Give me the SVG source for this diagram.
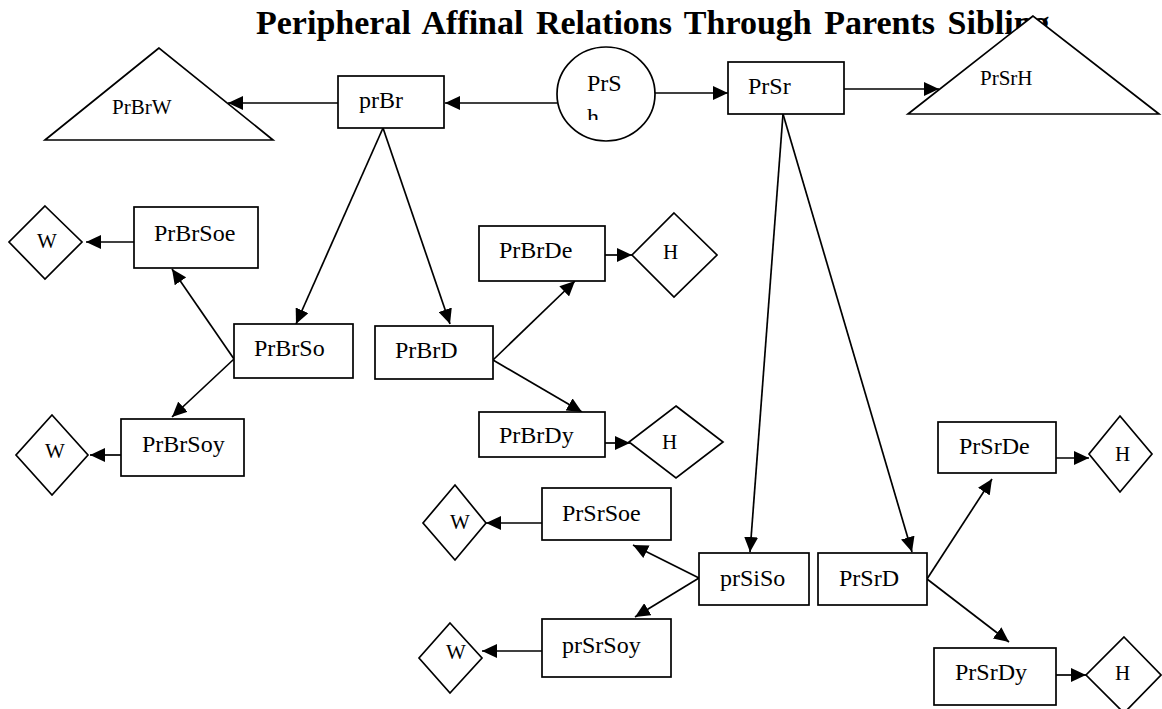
<svg xmlns="http://www.w3.org/2000/svg" width="1162" height="709" viewBox="0 0 1162 709">
  <style>
    .box { fill: #fff; stroke: #000; stroke-width: 1.7; }
    .shape { fill: #fff; stroke: #000; stroke-width: 1.7; }
    .lbl { font-family: "Liberation Serif", "Times New Roman", serif; font-size: 24px; fill: #000; }
    .tri { font-family: "Liberation Serif", "Times New Roman", serif; font-size: 21px; fill: #000; }
    .dia { font-family: "Liberation Serif", "Times New Roman", serif; font-size: 21px; fill: #000; }
    .title { font-family: "Liberation Serif", "Times New Roman", serif; font-size: 34px; font-weight: bold; fill: #000; word-spacing: 4px; }
    .edge { fill: none; stroke: #000; stroke-width: 1.7; marker-end: url(#arrow); }
  </style>
  <defs>
    <marker id="arrow" markerUnits="userSpaceOnUse" markerWidth="16" markerHeight="14" refX="15" refY="7" orient="auto">
      <path d="M0,0 L15,7 L0,14 Z" fill="#000"/>
    </marker>
    <clipPath id="circleText">
      <rect x="560" y="60" width="80" height="60"/>
    </clipPath>
  </defs>

  <rect width="1162" height="709" fill="#fff"/>

  <text class="title" x="256" y="34">Peripheral Affinal Relations Through Parents Sibling</text>

  <!-- connectors -->
  <g id="connectors">
    <line class="edge" x1="557" y1="103" x2="445" y2="103"/>
    <line class="edge" x1="338" y1="103" x2="228" y2="103"/>
    <line class="edge" x1="655" y1="93" x2="728" y2="93"/>
    <line class="edge" x1="844" y1="89" x2="939" y2="89"/>

    <line class="edge" x1="383" y1="128" x2="296" y2="324"/>
    <line class="edge" x1="383" y1="128" x2="450" y2="324"/>

    <line class="edge" x1="234" y1="359" x2="172" y2="269"/>
    <line class="edge" x1="234" y1="359" x2="172" y2="417"/>
    <line class="edge" x1="134" y1="242" x2="86" y2="242"/>
    <line class="edge" x1="121" y1="455" x2="90" y2="455"/>

    <line class="edge" x1="493" y1="360" x2="575" y2="281"/>
    <line class="edge" x1="493" y1="360" x2="582" y2="412"/>
    <line class="edge" x1="605" y1="255" x2="632" y2="255"/>
    <line class="edge" x1="605" y1="443" x2="630" y2="443"/>

    <line class="edge" x1="783" y1="114" x2="750" y2="552"/>
    <line class="edge" x1="783" y1="114" x2="912" y2="552"/>

    <line class="edge" x1="699" y1="578" x2="633" y2="545"/>
    <line class="edge" x1="699" y1="578" x2="635" y2="617"/>
    <line class="edge" x1="542" y1="523" x2="486" y2="523"/>
    <line class="edge" x1="542" y1="651" x2="482" y2="651"/>

    <line class="edge" x1="927" y1="579" x2="992" y2="479"/>
    <line class="edge" x1="927" y1="579" x2="1009" y2="642"/>
    <line class="edge" x1="1056" y1="458" x2="1089" y2="458"/>
    <line class="edge" x1="1056" y1="675" x2="1086" y2="675"/>
  </g>

  <!-- top row -->
  <g id="PrBrW">
    <polygon class="shape" points="159,48 45,140 273,140"/>
    <text class="tri" x="112" y="114">PrBrW</text>
  </g>
  <g id="prBr">
    <rect class="box" x="338" y="76" width="106" height="52"/>
    <text class="lbl" x="359" y="108">prBr</text>
  </g>
  <g id="PrSh">
    <ellipse class="shape" cx="606" cy="94" rx="49" ry="47"/>
    <g clip-path="url(#circleText)">
      <text class="lbl" x="587" y="91">PrS</text>
      <text class="lbl" x="587" y="125">h</text>
    </g>
  </g>
  <g id="PrSr">
    <rect class="box" x="728" y="62" width="116" height="52"/>
    <text class="lbl" x="748" y="94">PrSr</text>
  </g>
  <g id="PrSrH">
    <polygon class="shape" points="1033,16 908,114 1159,114"/>
    <text class="tri" x="980" y="85">PrSrH</text>
  </g>

  <!-- brother's side -->
  <g id="PrBrSoe">
    <rect class="box" x="134" y="207" width="124" height="61"/>
    <text class="lbl" x="154" y="241">PrBrSoe</text>
  </g>
  <g id="W1">
    <polygon class="shape" points="45,206 82,242 45,279 9,242"/>
    <text class="dia" x="37" y="248">W</text>
  </g>
  <g id="PrBrSo">
    <rect class="box" x="234" y="324" width="119" height="54"/>
    <text class="lbl" x="254" y="356">PrBrSo</text>
  </g>
  <g id="PrBrSoy">
    <rect class="box" x="121" y="419" width="123" height="57"/>
    <text class="lbl" x="142" y="452">PrBrSoy</text>
  </g>
  <g id="W2">
    <polygon class="shape" points="52,415 88,455 52,495 16,455"/>
    <text class="dia" x="45" y="458">W</text>
  </g>
  <g id="PrBrD">
    <rect class="box" x="375" y="326" width="118" height="53"/>
    <text class="lbl" x="395" y="358">PrBrD</text>
  </g>
  <g id="PrBrDe">
    <rect class="box" x="479" y="226" width="126" height="55"/>
    <text class="lbl" x="499" y="258">PrBrDe</text>
  </g>
  <g id="H1">
    <polygon class="shape" points="674,213 717,255 674,297 632,255"/>
    <text class="dia" x="663" y="259">H</text>
  </g>
  <g id="PrBrDy">
    <rect class="box" x="479" y="412" width="126" height="45"/>
    <text class="lbl" x="499" y="443">PrBrDy</text>
  </g>
  <g id="H2">
    <polygon class="shape" points="676,406 723,442 676,478 629,442"/>
    <text class="dia" x="662" y="449">H</text>
  </g>

  <!-- sister's side -->
  <g id="PrSrSoe">
    <rect class="box" x="542" y="488" width="129" height="52"/>
    <text class="lbl" x="562" y="521">PrSrSoe</text>
  </g>
  <g id="W3">
    <polygon class="shape" points="455,485 486,523 455,560 423,523"/>
    <text class="dia" x="450" y="529">W</text>
  </g>
  <g id="prSrSoy">
    <rect class="box" x="542" y="619" width="129" height="58"/>
    <text class="lbl" x="562" y="653">prSrSoy</text>
  </g>
  <g id="W4">
    <polygon class="shape" points="450,623 482,658 450,693 419,658"/>
    <text class="dia" x="446" y="659">W</text>
  </g>
  <g id="prSiSo">
    <rect class="box" x="699" y="553" width="110" height="52"/>
    <text class="lbl" x="720" y="586">prSiSo</text>
  </g>
  <g id="PrSrD">
    <rect class="box" x="818" y="553" width="109" height="52"/>
    <text class="lbl" x="839" y="586">PrSrD</text>
  </g>
  <g id="PrSrDe">
    <rect class="box" x="938" y="422" width="118" height="51"/>
    <text class="lbl" x="959" y="454">PrSrDe</text>
  </g>
  <g id="H3">
    <polygon class="shape" points="1120,416 1152,454 1120,492 1089,454"/>
    <text class="dia" x="1115" y="461">H</text>
  </g>
  <g id="PrSrDy">
    <rect class="box" x="934" y="648" width="122" height="57"/>
    <text class="lbl" x="955" y="680">PrSrDy</text>
  </g>
  <g id="H4">
    <polygon class="shape" points="1124,637 1161,675 1124,713 1086,675"/>
    <text class="dia" x="1115" y="680">H</text>
  </g>
</svg>
